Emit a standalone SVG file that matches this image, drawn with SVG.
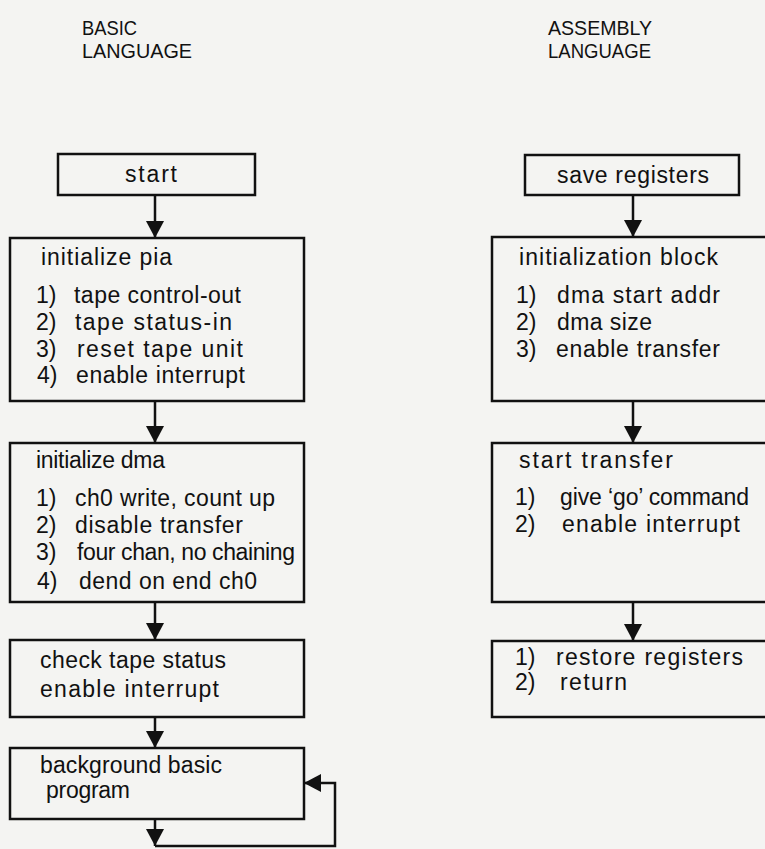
<svg xmlns="http://www.w3.org/2000/svg" width="765" height="849" viewBox="0 0 765 849">
<style>
.box{fill:none;stroke:#111;stroke-width:2.5}
.ln{fill:none;stroke:#111;stroke-width:2.5}
text{font-family:"Liberation Sans",Arial,sans-serif;font-size:23px;fill:#111}
.hd{font-size:21px}
</style>
<defs>
<marker id="ah" markerUnits="userSpaceOnUse" markerWidth="20" markerHeight="20" refX="17" refY="9" orient="auto">
<path d="M0,0 L17,9 L0,18 z" fill="#111"/>
</marker>
</defs>
<rect x="0" y="0" width="765" height="849" fill="#f4f4f2"/>
<g id="headers">
<text class="hd" x="82" y="35" textLength="55" lengthAdjust="spacingAndGlyphs">BASIC</text>
<text class="hd" x="82" y="58" textLength="110" lengthAdjust="spacingAndGlyphs">LANGUAGE</text>
<text class="hd" x="548" y="35" textLength="104" lengthAdjust="spacingAndGlyphs">ASSEMBLY</text>
<text class="hd" x="548" y="58" textLength="103" lengthAdjust="spacingAndGlyphs">LANGUAGE</text>
</g>
<g id="start">
<rect class="box" x="58" y="154" width="197" height="41"/>
<text x="125" y="182" textLength="52">start</text>
</g>
<g id="init-pia">
<rect class="box" x="10" y="238" width="294" height="163"/>
<text x="41" y="265" textLength="131">initialize pia</text>
<text y="303"><tspan x="36">1)</tspan><tspan x="74" textLength="167">tape control-out</tspan></text>
<text y="330"><tspan x="36">2)</tspan><tspan x="75" textLength="157">tape status-in</tspan></text>
<text y="357"><tspan x="36">3)</tspan><tspan x="77" textLength="166">reset tape unit</tspan></text>
<text y="383"><tspan x="37">4)</tspan><tspan x="76" textLength="169">enable interrupt</tspan></text>
</g>
<g id="init-dma">
<rect class="box" x="10" y="443" width="294" height="159"/>
<text x="36" y="468" textLength="129">initialize dma</text>
<text y="506"><tspan x="36">1)</tspan><tspan x="75" textLength="200">ch0 write, count up</tspan></text>
<text y="533"><tspan x="36">2)</tspan><tspan x="75" textLength="168">disable transfer</tspan></text>
<text y="560"><tspan x="36">3)</tspan><tspan x="77" textLength="218">four chan, no chaining</tspan></text>
<text y="589"><tspan x="37">4)</tspan><tspan x="79" textLength="178">dend on end ch0</tspan></text>
</g>
<g id="check-tape">
<rect class="box" x="10" y="640" width="294" height="77"/>
<text x="40" y="668" textLength="186">check tape status</text>
<text x="40" y="697" textLength="179">enable interrupt</text>
</g>
<g id="background">
<rect class="box" x="10" y="748" width="294" height="71"/>
<text x="40" y="773" textLength="182">background basic</text>
<text x="46" y="798" textLength="84">program</text>
</g>
<g id="save-registers">
<rect class="box" x="525" y="155" width="214" height="40"/>
<text x="557" y="183" textLength="152">save registers</text>
</g>
<g id="init-block">
<rect class="box" x="492" y="237" width="280" height="164"/>
<text x="519" y="265" textLength="199">initialization block</text>
<text y="303"><tspan x="516">1)</tspan><tspan x="557" textLength="163">dma start addr</tspan></text>
<text y="330"><tspan x="516">2)</tspan><tspan x="557" textLength="95">dma size</tspan></text>
<text y="357"><tspan x="516">3)</tspan><tspan x="556" textLength="164">enable transfer</tspan></text>
</g>
<g id="start-transfer">
<rect class="box" x="492" y="443" width="280" height="159"/>
<text x="519" y="468" textLength="154">start transfer</text>
<text y="505"><tspan x="515">1)</tspan><tspan x="560" textLength="189">give ‘go’ command</tspan></text>
<text y="532"><tspan x="515">2)</tspan><tspan x="562" textLength="178">enable interrupt</tspan></text>
</g>
<g id="restore">
<rect class="box" x="492" y="641" width="280" height="76"/>
<text y="665"><tspan x="515">1)</tspan><tspan x="556" textLength="187">restore registers</tspan></text>
<text y="690"><tspan x="515">2)</tspan><tspan x="560" textLength="67">return</tspan></text>
</g>
<g id="connectors">
<line class="ln" x1="155" y1="195" x2="155" y2="238" marker-end="url(#ah)"/>
<line class="ln" x1="155" y1="401" x2="155" y2="443" marker-end="url(#ah)"/>
<line class="ln" x1="155" y1="602" x2="155" y2="640" marker-end="url(#ah)"/>
<line class="ln" x1="155" y1="717" x2="155" y2="748" marker-end="url(#ah)"/>
<line class="ln" x1="155" y1="819" x2="155" y2="846" marker-end="url(#ah)"/>
<path class="ln" d="M155,846 H335 V783 H304" marker-end="url(#ah)"/>
<line class="ln" x1="633" y1="195" x2="633" y2="237" marker-end="url(#ah)"/>
<line class="ln" x1="633" y1="401" x2="633" y2="443" marker-end="url(#ah)"/>
<line class="ln" x1="633" y1="602" x2="633" y2="641" marker-end="url(#ah)"/>
</g>
</svg>
